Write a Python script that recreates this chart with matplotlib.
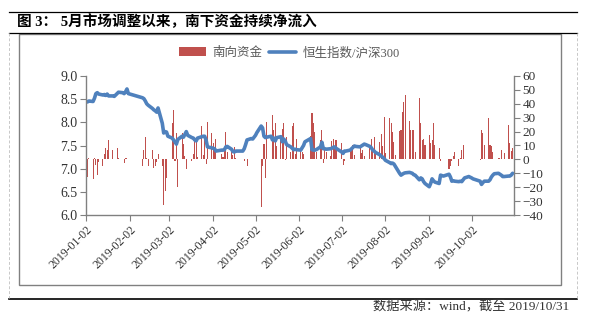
import numpy as np
import pandas as pd
import matplotlib
matplotlib.use('Agg')
import matplotlib.pyplot as plt
import matplotlib.dates as mdates
from matplotlib.lines import Line2D
from matplotlib.patches import Rectangle

plt.rcParams['font.family'] = ['Liberation Serif', 'Noto Sans CJK SC']

# trading days of 2019 (month-day), one month per line
dates = [
    '01-02', '01-03', '01-04', '01-07', '01-08', '01-09', '01-10', '01-11', '01-14', '01-15', '01-16',
    '01-17', '01-18', '01-21', '01-22', '01-23', '01-24', '01-25', '01-28', '01-29', '01-30', '01-31',
    '02-01', '02-11', '02-12', '02-13', '02-14', '02-15', '02-18', '02-19', '02-20', '02-21', '02-22',
    '02-25', '02-26', '02-27', '02-28',
    '03-01', '03-04', '03-05', '03-06', '03-07', '03-08', '03-11', '03-12', '03-13', '03-14', '03-15',
    '03-18', '03-19', '03-20', '03-21', '03-22', '03-25', '03-26', '03-27', '03-28', '03-29',
    '04-01', '04-02', '04-03', '04-04', '04-08', '04-09', '04-10', '04-11', '04-12', '04-15', '04-16',
    '04-17', '04-18', '04-23', '04-24', '04-25', '04-26', '04-29', '04-30',
    '05-02', '05-03', '05-06', '05-07', '05-08', '05-09', '05-10', '05-13', '05-14', '05-15', '05-16',
    '05-17', '05-20', '05-21', '05-22', '05-23', '05-24', '05-27', '05-28', '05-29', '05-30', '05-31',
    '06-03', '06-04', '06-05', '06-06', '06-10', '06-11', '06-12', '06-13', '06-14', '06-17', '06-18',
    '06-19', '06-20', '06-21', '06-24', '06-25', '06-26', '06-27', '06-28',
    '07-02', '07-03', '07-04', '07-05', '07-08', '07-09', '07-10', '07-11', '07-12', '07-15', '07-16',
    '07-17', '07-18', '07-19', '07-22', '07-23', '07-24', '07-25', '07-26', '07-29', '07-30', '07-31',
    '08-01', '08-02', '08-05', '08-06', '08-07', '08-08', '08-09', '08-12', '08-13', '08-14', '08-15',
    '08-16', '08-19', '08-20', '08-21', '08-22', '08-23', '08-26', '08-27', '08-28', '08-29', '08-30',
    '09-02', '09-03', '09-04', '09-05', '09-06', '09-09', '09-10', '09-11', '09-12', '09-16', '09-17',
    '09-18', '09-19', '09-20', '09-23', '09-24', '09-25', '09-26', '09-27', '09-30',
    '10-02', '10-03', '10-04', '10-08', '10-09', '10-10', '10-11', '10-14', '10-15', '10-16', '10-17',
    '10-18', '10-21', '10-22', '10-23', '10-24', '10-25', '10-28', '10-29', '10-30', '10-31',
]

# Hang Seng index / CSI 300 ratio (left axis)
hs_ratio = [
    8.45, 8.44, 8.46, 8.45, 8.52, 8.62, 8.64, 8.61, 8.59, 8.60, 8.58,
    8.61, 8.57, 8.57, 8.56, 8.59, 8.62, 8.65, 8.64, 8.62, 8.66, 8.72,
    8.62, 8.53, 8.51, 8.46, 8.40, 8.37, 8.30, 8.27, 8.25, 8.22, 8.31,
    7.98, 7.77, 7.80, 7.79,
    7.70, 7.66, 7.62, 7.58, 7.53, 7.63, 7.70, 7.68, 7.74, 7.80, 7.72,
    7.67, 7.66, 7.62, 7.60, 7.66, 7.69, 7.70, 7.70, 7.62, 7.47,
    7.45, 7.44, 7.43, 7.38, 7.40, 7.40, 7.41, 7.47, 7.48, 7.42, 7.37,
    7.36, 7.38, 7.38, 7.43, 7.52, 7.62, 7.65, 7.64,
    7.72, 7.78, 7.92, 7.88, 7.70, 7.67, 7.68, 7.70, 7.62, 7.66, 7.60,
    7.67, 7.69, 7.58, 7.64, 7.60, 7.52, 7.47, 7.44, 7.41, 7.42, 7.41,
    7.40, 7.45, 7.50, 7.58, 7.65, 7.41, 7.40, 7.40, 7.41, 7.47, 7.57,
    7.43, 7.43, 7.42, 7.43, 7.44, 7.46, 7.47, 7.44,
    7.36, 7.33, 7.38, 7.38, 7.40, 7.43, 7.46, 7.49, 7.48, 7.47, 7.49,
    7.51, 7.53, 7.52, 7.48, 7.45, 7.40, 7.38, 7.35, 7.30, 7.27, 7.25,
    7.22, 7.18, 7.13, 7.11, 7.12, 7.10, 7.05, 6.90, 6.86, 6.88, 6.90,
    6.91, 6.92, 6.91, 6.90, 6.87, 6.86, 6.76, 6.80, 6.78, 6.72, 6.68,
    6.61, 6.68, 6.78, 6.74, 6.71, 6.68, 6.86, 6.85, 6.84, 6.88, 6.82,
    6.73, 6.74, 6.73, 6.72, 6.73, 6.72, 6.76, 6.80, 6.83,
    6.80, 6.78, 6.77, 6.73, 6.66, 6.70, 6.73, 6.73, 6.76, 6.82, 6.86,
    6.89, 6.90, 6.88, 6.86, 6.83, 6.83, 6.84, 6.84, 6.86, 6.90,
]

# southbound net inflow, 100m CNY (right axis)
south_flow = [
    -12, -13, 0.8, -14, 0.8, -4, -11, -2, -5, 4, 8,
    7, 14, 7, 0.5, 0.5, 8, 0.8, 0.5, -2.4, 1, 1,
    0, -5, 7, 16, 1, -5, 7, -6.5, -5, -2, 4,
    -5, -33, -22.5, -13.7,
    0.5, 26, 35.5, -1, 19, -20, 19, 11, 2.4, -7, 0.5,
    -1, 4, 15, 14, 1.5, 24, 3, 15, -3, 27,
    19, 11.5, 7, 15, 4, 1.5, 8, 20, 5, 5, 3,
    9, 1, 0.3, -1, 0.5, -5, 0, 0,
    0, 0, -34.5, -5, 11, -13.7, 27, 0, 32, 21, 26,
    9.6, 16, 22, 26, -0.5, 16, 5, 24, 26, 4, 15,
    7, 5, 4, 0.5, 17, 33.6, 26, 20, 5, 14, 21.5,
    -2.4, 7, 5.5, 2.4, 13.4, 14.4, 8.6, 14,
    12, -4, -1.5, 0.5, 7, 9, 10.3, 3, 0.5, 8.6, 4.8,
    7, 2.4, 0.3, 9.6, 15, 7, 16, 5.5, 12.7, 18, 9.6,
    30.7, 4.3, 30, 26, 20, 12.7, 3, 20.6, 21.5, 34, 41.5,
    46, 27.8, 21.5, 21.5, 21.5, 5.5, 44, 26, 14, 15, 10,
    17.5, 12, 14, 26, 10, 8, -1, 0, 0, -7, -5,
    -1, 2.4, 5.5, -5, 0.7, 7, 10, 0, 0,
    0, 0, 0, -0.5, 21.5, 19, 10, 29.5, 10, 9.6, 5.5,
    0, 0.7, 0.7, 7, 0, 4.3, 25, 12, 6, 8,
]

month_ticks = ['2019-01-02', '2019-02-02', '2019-03-02', '2019-04-02', '2019-05-02',
               '2019-06-02', '2019-07-02', '2019-08-02', '2019-09-02', '2019-10-02']

days = pd.to_datetime(['2019-' + d for d in dates])

W, H = 593, 326
fig = plt.figure(figsize=(W / 100, H / 100), dpi=100)


def fx(px):
    return px / W


def fy(py):
    return 1 - py / H


grey = '#808080'
red = '#C0504D'
blue = '#4F81BD'

# bars on the right-hand scale, line on the left-hand scale drawn above them
ax_bar = fig.add_axes([fx(86), fy(215), fx(514) - fx(86), fy(76) - fy(215)])
ax_line = ax_bar.twinx()

bars = ax_bar.bar(days, south_flow, width=0.75, color=red, linewidth=0, label='南向资金')
line, = ax_line.plot(days, hs_ratio, color=blue, lw=2.6, solid_capstyle='round',
                     label='恒生指数/沪深300')

ax_bar.set_xlim(pd.Timestamp('2019-01-02'), pd.Timestamp('2019-11-01'))
ax_bar.set_xticks(pd.to_datetime(month_ticks))
ax_bar.xaxis.set_major_formatter(mdates.DateFormatter('%Y-%m-%d'))
for lab in ax_bar.get_xticklabels():
    lab.set_rotation(45)
    lab.set_ha('right')
    lab.set_rotation_mode('anchor')

ax_bar.set_ylim(-40, 60)
ax_bar.set_yticks(np.arange(-40, 61, 10))
ax_bar.yaxis.tick_right()
ax_line.set_ylim(6, 9)
ax_line.set_yticks(np.arange(6, 9.01, 0.5))
ax_line.yaxis.set_major_formatter(matplotlib.ticker.FormatStrFormatter('%.1f'))
ax_line.yaxis.tick_left()

for sp in ax_line.spines.values():
    sp.set_visible(False)
ax_line.spines['left'].set_visible(True)
ax_line.spines['left'].set_color(grey)
ax_bar.spines['top'].set_visible(False)
ax_bar.spines['left'].set_visible(False)
for s in ['right', 'bottom']:
    ax_bar.spines[s].set_color(grey)
    ax_bar.spines[s].set_linewidth(1.0)
ax_line.spines['left'].set_linewidth(1.0)

ax_bar.tick_params(axis='x', direction='out', length=4, color=grey, labelsize=8.5,
                   labelcolor='#333333', pad=2)
ax_bar.tick_params(axis='y', direction='out', length=4, color=grey, labelsize=9.5,
                   labelcolor='#333333', pad=2)
ax_line.tick_params(axis='y', direction='out', length=4, color=grey, labelsize=10,
                    labelcolor='#333333', pad=2)

fig.legend([bars, line], ['南向资金', '恒生指数/沪深300'], loc='center',
           bbox_to_anchor=(fx(289), fy(53)), ncol=2, frameon=False,
           fontsize=9, handlelength=2.2, handletextpad=0.5, columnspacing=0.5,
           labelcolor='#595959')

# page frame: title rules, dashed side borders, inner grey box
def hline(y, x0, x1, lw, color='black'):
    fig.add_artist(Line2D([fx(x0), fx(x1)], [fy(y), fy(y)], color=color, lw=lw,
                          transform=fig.transFigure))


def vline(x, y0, y1, lw, color, ls):
    fig.add_artist(Line2D([fx(x), fx(x)], [fy(y0), fy(y1)], color=color, lw=lw, ls=ls,
                          transform=fig.transFigure))


hline(11.5, 8.5, 577, 0.9)
hline(33, 8.5, 577, 0.9)
hline(298.5, 8.5, 577, 1.2)
vline(9, 33, 298, 0.7, '#c8c8c8', (0, (3, 2)))
vline(577, 33, 298, 0.7, '#c8c8c8', (0, (3, 2)))
fig.add_artist(Rectangle((fx(18.5), fy(285)), fx(560.5) - fx(18.5), fy(33.5) - fy(285),
                         fill=False, edgecolor=grey, lw=1.0, transform=fig.transFigure))

fig.text(fx(17), fy(22), '图 3： 5月市场调整以来，南下资金持续净流入',
         fontsize=10.5, fontweight='bold', ha='left', va='center')
fig.text(fx(569), fy(307.5), '数据来源：wind，截至 2019/10/31',
         fontsize=9.5, ha='right', va='center', color='#333333')

fig.savefig('out.png', dpi=100)
